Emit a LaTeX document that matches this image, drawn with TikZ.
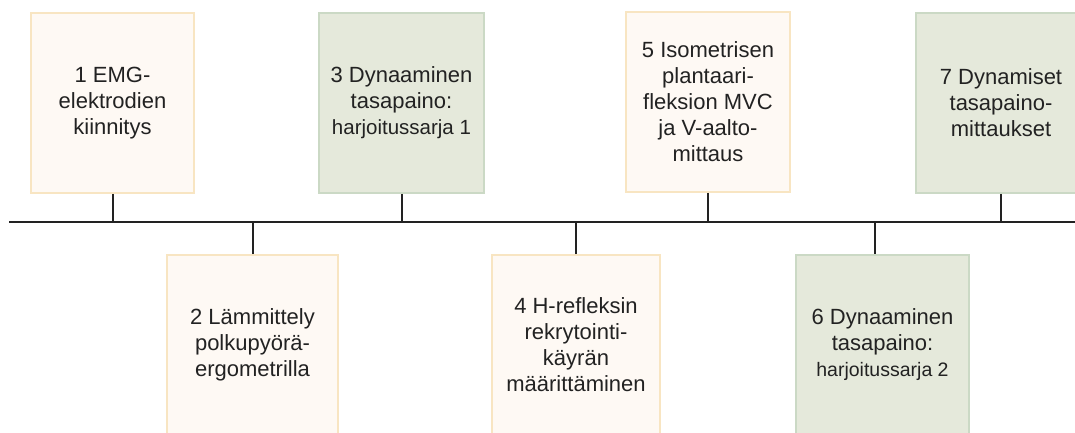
\documentclass[tikz,border=0pt]{standalone}
\usepackage{fontspec}
\setmainfont{Liberation Sans}
\definecolor{creamfill}{HTML}{FEF9F4}
\definecolor{creamline}{HTML}{F8E5C2}
\definecolor{sagefill}{HTML}{E5E9DB}
\definecolor{sageline}{HTML}{CBD9C5}
\definecolor{ink}{HTML}{222222}
\begin{document}
\begin{tikzpicture}[x=1pt,y=-1pt,
  box/.style={rectangle, line width=1.6pt, inner sep=0pt, minimum height=180pt,
    align=center, text=ink, font=\fontsize{22}{26}\selectfont},
  cream/.style={box, fill=creamfill, draw=creamline},
  sage/.style={box, fill=sagefill, draw=sageline},
  axis/.style={draw=ink, line width=2.4pt},
  tick/.style={draw=ink, line width=2pt}]
\useasboundingbox (0,0) rectangle (1075,432);
\clip (0,0) rectangle (1075,432);

% timeline
\coordinate (axL) at (9,222);
\coordinate (axR) at (1075,222);
\draw[axis] (axL) -- (axR);

% upper stages
\node[cream, minimum width=163pt] (s1) at (112.5,103) {1 EMG-\\elektrodien\\kiinnitys};
\node[sage, minimum width=165pt] (s3) at (401.5,103) {3 Dynaaminen\\tasapaino:\\{\fontsize{20.5}{26}\selectfont harjoitussarja 1}};
\node[cream, minimum width=164pt] (s5) at (708,102) {5 Isometrisen\\plantaari-\\fleksion MVC\\ja V-aalto-\\mittaus};
\node[sage, minimum width=170pt] (s7) at (1001,103) {7 Dynamiset\\tasapaino-\\mittaukset};

% lower stages
\node[cream, minimum width=171pt] (s2) at (252.5,345) {2 Lämmittely\\polkupyörä-\\ergometrilla};
\node[cream, minimum width=168pt] (s4) at (576,345) {4 H-refleksin\\rekrytointi-\\käyrän\\määrittäminen};
\node[sage, minimum width=173pt] (s6) at (882.5,345) {6 Dynaaminen\\tasapaino:\\{\fontsize{19.5}{26}\selectfont harjoitussarja 2}};

% ticks joining the stages to the timeline
\draw[tick] (s1.south) -- (s1.south |- axL);
\draw[tick] (s3.south) -- (s3.south |- axL);
\draw[tick] (s5.south) -- (s5.south |- axL);
\draw[tick] (s7.south) -- (s7.south |- axL);
\draw[tick] (s2.north) -- (s2.north |- axL);
\draw[tick] (s4.north) -- (s4.north |- axL);
\coordinate (t6) at (875,222);
\draw[tick] (t6) -- (t6 |- s6.north);
\end{tikzpicture}
\end{document}
